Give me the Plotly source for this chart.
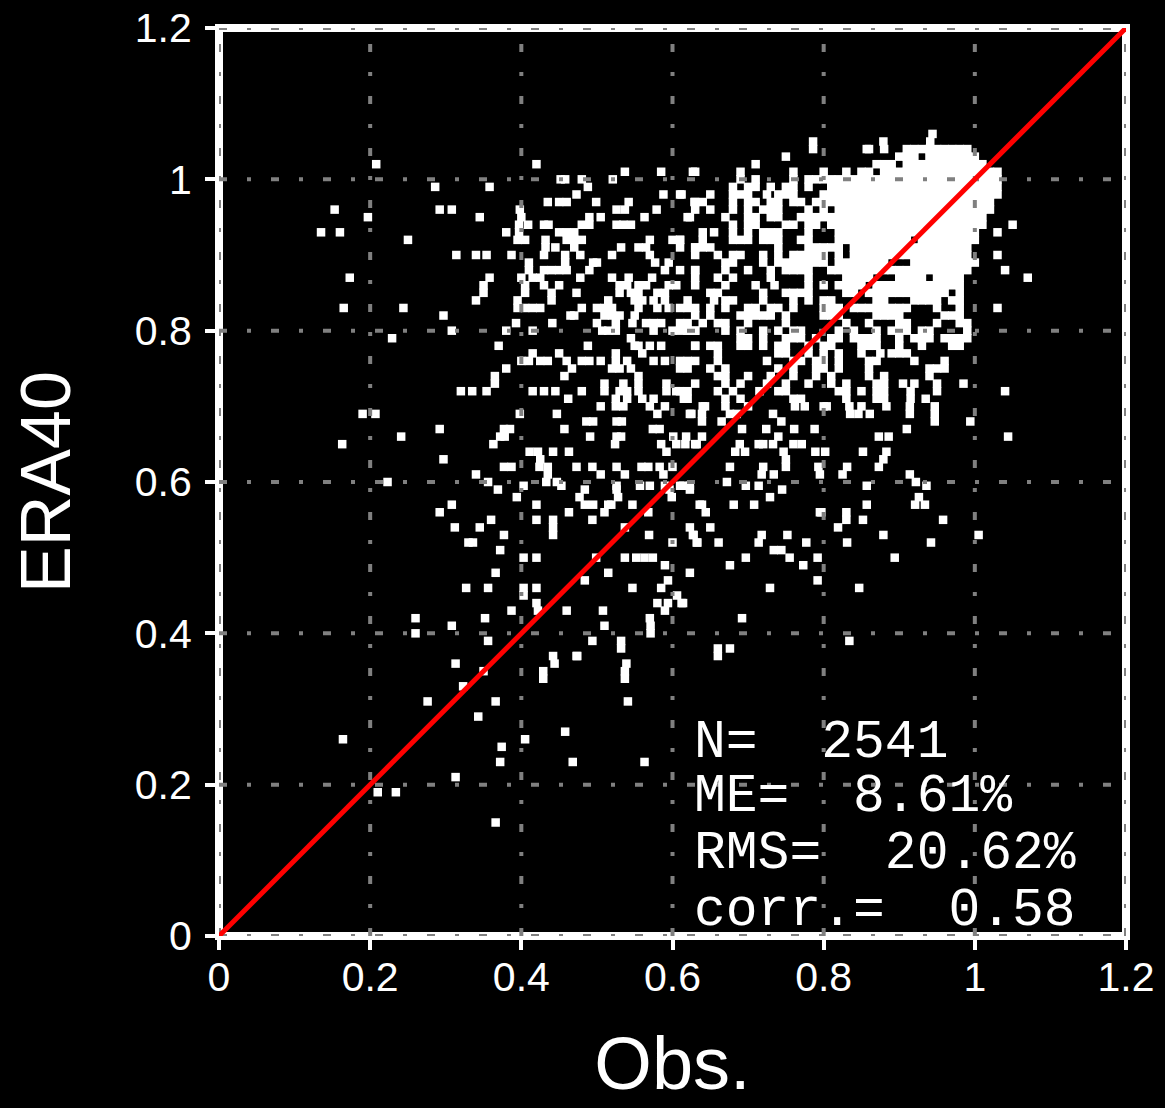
import plotly.graph_objects as go

TICKS = [0, 0.2, 0.4, 0.6, 0.8, 1, 1.2]
TICK_TEXT = ["0", "0.2", "0.4", "0.6", "0.8", "1", "1.2"]
STATS = ["N=\u00a0\u00a02541", "ME=\u00a0\u00a08.61%", "RMS=\u00a0\u00a020.62%", "corr.=\u00a0\u00a00.58"]
LINE_X = [0, 1.2]
LINE_Y = [0, 1.2]

ERA_ROWS = [1.06, 1.05, 1.04, 1.03, 1.02, 1.01, 1.00, 0.99, 0.98, 0.97, 0.96, 0.95, 0.94, 0.93, 0.92, 0.91, 0.90,
            0.89, 0.88, 0.87, 0.86, 0.85, 0.84, 0.83, 0.82, 0.81, 0.80, 0.79, 0.78, 0.77, 0.76, 0.75, 0.74, 0.73,
            0.72, 0.71, 0.70, 0.69, 0.68, 0.67, 0.66, 0.65, 0.64, 0.63, 0.62, 0.61, 0.60, 0.595, 0.59, 0.58, 0.57,
            0.56, 0.55, 0.54, 0.53, 0.52, 0.51, 0.50, 0.49, 0.48, 0.47, 0.46, 0.45, 0.44, 0.43, 0.42, 0.41, 0.40,
            0.39, 0.38, 0.37, 0.36, 0.35, 0.34, 0.33, 0.31, 0.29, 0.27, 0.26, 0.25, 0.23, 0.21, 0.19, 0.15]
OBS_ROWS = [
    [.944],
    [.941, .786, .879],
    [.857, .786, .86, .88, .91, .92, .93, .94, .95, .96, .97, .98, .99],
    [.75, .90, .91, .92, .94, .95, .96, .97, .98, .99, 1.00],
    [.208, .420, .71, .87, .88, .89, .91, .92, .93, .94, .95, .96, .97, .98, .99, 1.00, 1.01],
    [.537, .585, .627, .63, .69, .76, .80, .83, .85, .86, .88, .89, .90, .91, .92, .93, .94, .95, .96, .97, .98, .99, 1.00, 1.01, 1.02, 1.03],
    [.458, .452, .480, .521, .69, .71, .76, .78, .79, .80, .81, .82, .83, .84, .85, .86, .87, .88, .89, .90, .91, .92, .93, .94, .95, .96, .97, .98, .99, 1.00, 1.01, 1.02, 1.03],
    [.286, .358, .488, .68, .70, .71, .73, .75, .76, .78, .81, .82, .83, .84, .85, .86, .87, .88, .89, .90, .91, .92, .93, .94, .95, .96, .97, .98, .99, 1.00, 1.01, 1.02, 1.03],
    [.473, .588, .610, .612, .65, .68, .69, .70, .725, .74, .75, .76, .80, .81, .82, .83, .84, .85, .86, .87, .88, .89, .90, .91, .92, .93, .94, .95, .96, .97, .98, .99, 1.00, 1.01, 1.02, 1.03],
    [.435, .450, .460, .499, .542, .629, .63, .64, .68, .70, .71, .73, .74, .76, .77, .79, .80, .81, .82, .83, .84, .85, .86, .87, .88, .89, .90, .91, .92, .93, .94, .95, .96, .97, .98, .99, 1.00, 1.01, 1.02],
    [.292, .308, .153, .398, .526, .537, .579, .63, .65, .68, .70, .72, .73, .74, .78, .80, .82, .83, .84, .85, .86, .87, .88, .89, .90, .91, .92, .93, .94, .95, .96, .97, .98, .99, 1.00, 1.01, 1.02],
    [.197, .345, .400, .490, .505, .563, .623, .62, .67, .70, .71, .73, .74, .77, .78, .79, .80, .81, .82, .83, .84, .85, .86, .87, .88, .89, .90, .91, .92, .93, .94, .95, .96, .97, .98, .99, 1.00, 1.01],
    [.409, .436, .526, .535, .545, .430, .480, .490, .397, .68, .70, .71, .75, .76, .78, .79, .81, .82, .83, .84, .85, .86, .87, .88, .89, .90, .91, .92, .93, .94, .95, .96, .97, .98, .99, 1.00, 1.01, 1.05],
    [.135, .160, .380, .397, .450, .460, .470, .64, .655, .68, .70, .72, .73, .74, .78, .82, .83, .84, .85, .86, .87, .88, .89, .90, .91, .92, .93, .94, .95, .96, .97, .98, .99, 1.00, 1.03],
    [.250, .395, .405, .460, .470, .480, .432, .570, .600, .610, .61, .64, .68, .69, .70, .72, .73, .74, .77, .78, .82, .83, .84, .85, .86, .87, .88, .89, .90, .91, .93, .94, .95, .96, .97, .98, .99, 1.00],
    [.432, .445, .470, .532, .555, .565, .610, .630, .63, .64, .65, .74, .78, .79, .80, .81, .82, .84, .85, .86, .87, .88, .89, .90, .91, .92, .93, .94, .95, .96, .97, .98, .99],
    [.314, .340, .354, .387, .430, .458, .478, .520, .570, .630, .66, .68, .69, .72, .74, .76, .77, .78, .79, .80, .82, .84, .85, .86, .87, .88, .89, .90, .91, .92, .93, .94, .95, .96, .97, .98, .99, 1.03],
    [.500, .495, .410, .458, .577, .595, .67, .68, .72, .74, .75, .76, .77, .78, .79, .80, .82, .83, .84, .85, .86, .87, .88, .92, .93, .94, .95, .96, .97, .98, .99, 1.00],
    [.430, .440, .450, .460, .490, .410, .590, .610, .630, .63, .67, .70, .73, .75, .76, .77, .78, .81, .82, .83, .84, .85, .86, .87, .88, .89, .90, .91, .92, .93, .94, .95, .96, .97, .98, .99, 1.04],
    [.173, .358, .400, .415, .425, .478, .520, .542, .573, .63, .66, .68, .73, .78, .83, .84, .85, .86, .90, .91, .92, .93, .95, .96, .97, .98, 1.07],
    [.350, .405, .430, .450, .530, .540, .555, .565, .595, .605, .63, .67, .71, .735, .78, .80, .82, .83, .84, .85, .87, .88, .89, .90, .91, .92, .93, .94, .95, .96, .97, .98],
    [.350, .405, .440, .473, .530, .545, .555, .580, .590, .65, .66, .72, .75, .76, .77, .78, .83, .84, .86, .87, .88, .89, .90, .91, .92, .93, .94, .95, .96, .98],
    [.340, .395, .440, .515, .550, .560, .575, .590, .620, .655, .67, .68, .72, .76, .78, .80, .81, .87, .88, .92, .93, .94, .95, .97, .98],
    [.165, .244, .395, .405, .415, .425, .480, .500, .510, .520, .555, .580, .595, .610, .620, .630, .65, .67, .70, .71, .73, .74, .76, .80, .81, .82, .84, .85, .86, .87, .88, .89, .90, .91, .95, .98, 1.03],
    [.297, .465, .470, .510, .520, .530, .550, .63, .65, .69, .70, .71, .72, .73, .75, .80, .81, .82, .87, .88, .89, .90, .96, .97, .98],
    [.393, .441, .500, .525, .547, .565, .575, .585, .61, .62, .64, .66, .67, .70, .75, .83, .86, .90, .91, .95, .98, .99],
    [.308, .380, .415, .507, .515, .525, .575, .600, .610, .620, .630, .62, .63, .67, .69, .72, .74, .76, .77, .82, .84, .87, .89, .90, .91, .93, .94, .99],
    [.229, .545, .69, .70, .72, .75, .76, .77, .79, .81, .82, .84, .85, .86, .87, .90, .92, .93, .94, .96, .97, .98, .99],
    [.488, .550, .555, .570, .370, .585, .630, .63, .65, .66, .69, .70, .72, .74, .75, .78, .80, .81, .85, .86, .87, .90, .93, .97, .98],
    [.450, .525, .560, .415, .66, .74, .75, .78, .80, .82, .85, .875, .89, .90, .91],
    [.400, .410, .425, .435, .460, .480, .490, .505, .525, .540, .575, .590, .610, .630, .62, .66, .725, .76, .77, .79, .80, .82, .86, .87, .92, .96],
    [.380, .467, .520, .530, .545, .620, .61, .65, .67, .74, .76, .79, .80, .82, .86, .94, .95, .96],
    [.365, .457, .555, .66, .67, .70, .73, .76, .79, .81, .86, .88, .94],
    [.365, .510, .535, .555, .592, .630, .67, .69, .725, .75, .78, .81, .83, .87, .88, .905, .92, .95, .985],
    [.320, .335, .354, .415, .430, .445, .480, .510, .530, .540, .555, .592, .605, .620, .61, .66, .68, .715, .74, .75, .82, .83, .85, .87, .88, .915, .95, 1.04],
    [.462, .525, .540, .560, .575, .615, .62, .67, .69, .76, .77, .83, .87, .88, .915, .935],
    [.505, .525, .535, .570, .590, .64, .70, .80, .85, .804, .762, .775, .947, .914, .643, .670, .834, .883],
    [.207, .447, .580, .625, .623, .639, .861, .835, .685, .676, .733, .914, .190, .398, .846, .947],
    [.486, .495, .744, .639, .665, .947, .994, .526, .533],
    [.292, .457, .377, .385, .574, .583, .692, .724, .761, .788, .910],
    [.372, .378, .526, .601, .241, .491, .532, .618, .873, .886, 1.044, .639, .740],
    [.163, .363, .585, .524, .632, .605, .617, .630, .689, .714, .720, .733, .760, .771],
    [.411, .422, .442, .463, .592, .683, .696, .747, .789, .802, .852, .883],
    [.425, .297, .879, .750],
    [.424, .473, .494, .387, .600, .526, .568, .377, .435, .559, .583, .873, .750, .831, .676, .720, .793],
    [.340, .505, .537, .435, .588, .718, .734, .795, .825, .914],
    [.356, .433, .447, .223, .672, .922],
    [.403, .453, .526, .557, .570, .590, .610, .623, .697, .614, .714, .857, .936],
    [.369, .484, .526, .623, .596, .745],
    [.394, .477, .528, .599, .729, .926],
    [.308, .420, .547, .519, .636, .681, .708, .857, .934, .921, .639, .484, .495, .515],
    [.292, .463, .510, .568, .644, .797, .830, .795],
    [.360, .442, .420, .494, .830, .852, .958],
    [.312, .345, .537, .623, .442, .650, .819],
    [.442, .569, .627, .377, .628, .718, .752, .879, 1.005],
    [.330, .336, .632, .600, .633, .661, .714, .777, .831, .942],
    [.372, .744, .734],
    [.420, .537, .552, .563, .574, .697, .755, .792, .894, .403, .499],
    [.590, .676, .773],
    [.366, .515, .623],
    [.594, .484, .792],
    [.403, .356, .420, .729, .327, .547, .585, .847],
    [.403, .606],
    [.580, .594, .612, .420, .614],
    [.590, .460, .422, .387, .508],
    [.352, .260, .570, .692],
    [.510, .308, .571],
    [.260, .571],
    [.356, .494, .532, .834],
    [.532, .676, .660],
    [.473, .442, .660, .474],
    [.313, .539, .444],
    [.350, .429, .537],
    [.429, .537],
    [.323],
    [.366, .276, .541],
    [.343],
    [.458],
    [.164, .405],
    [.374],
    [.372, .468, .563],
    [.313],
    [.210, .234],
    [.366],
]

obs = [v for row in OBS_ROWS for v in row]
era = [e for e, row in zip(ERA_ROWS, OBS_ROWS) for _ in row]

fig = go.Figure()
fig.add_trace(go.Scatter(x=obs, y=era, mode="markers",
                         marker=dict(symbol="square", size=8.5, color="white", line=dict(width=0))))
for t in TICKS:
    fig.add_trace(go.Scatter(x=[t, t], y=[LINE_Y[0], LINE_Y[1]], mode="lines", cliponaxis=False, hoverinfo="skip",
                             line=dict(color="#808080", width=4, dash="8px,20px,4px,20px")))
    fig.add_trace(go.Scatter(x=[LINE_X[0], LINE_X[1]], y=[t, t], mode="lines", cliponaxis=False, hoverinfo="skip",
                             line=dict(color="#808080", width=4, dash="8px,20px,4px,20px")))
fig.add_trace(go.Scatter(x=LINE_X, y=LINE_Y, mode="lines", cliponaxis=False,
                         line=dict(color="#ff0000", width=5)))

axis = dict(range=[0, 1.2], tickvals=TICKS, ticktext=TICK_TEXT, showgrid=False, zeroline=False, showline=False,
            automargin=False, ticks="outside", ticklen=13, tickwidth=4, tickcolor="white", layer="below traces",
            tickfont=dict(family="Liberation Sans", size=41, color="white"))
fig.update_layout(
    width=1165, height=1108, autosize=False, showlegend=False,
    paper_bgcolor="black", plot_bgcolor="black",
    margin=dict(l=219, r=39, t=28, b=172, pad=0),
    xaxis=dict(axis, ticklabelstandoff=-8,
               title=dict(text="Obs.", font=dict(family="Liberation Sans", size=74, color="white"), standoff=37)),
    yaxis=dict(axis, ticklabelstandoff=5,
               title=dict(text="ERA40", font=dict(family="Liberation Sans", size=70, color="white"), standoff=41)),
    shapes=[dict(type="rect", xref="paper", yref="paper", x0=0, x1=1, y0=0, y1=1, layer="below",
                 line=dict(color="white", width=8))],
)
for text, yp in zip(STATS, [0.213, 0.153, 0.09, 0.028]):
    fig.add_annotation(text=text, xref="paper", yref="paper", x=0.521, y=yp, xanchor="left", yanchor="middle",
                       showarrow=False, font=dict(family="Liberation Mono", size=53, color="white"))

fig.write_html("out.html", config=dict(displayModeBar=False),
               post_script="document.body.style.margin='0';document.body.style.background='black';")
